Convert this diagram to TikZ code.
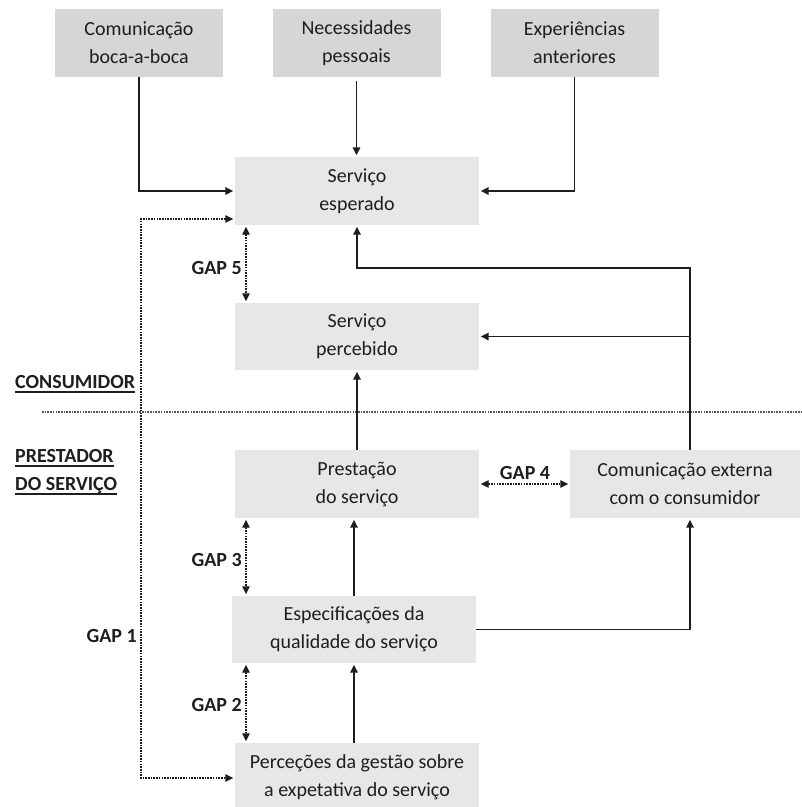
\documentclass[tikz,border=0pt]{standalone}
\usepackage{fontspec}
\setmainfont{Carlito}
\usetikzlibrary{arrows.meta}
\definecolor{topbox}{HTML}{D6D6D6}
\definecolor{lowbox}{HTML}{E7E7E7}
\definecolor{ink}{HTML}{1E1E1E}
\definecolor{dotc}{HTML}{555555}
\begin{document}
\begin{tikzpicture}[x=1pt,y=-1pt,
  box/.style={inner sep=0pt, minimum height=68pt, align=center, text=ink, font=\fontsize{20}{28}\selectfont},
  topb/.style={box, fill=topbox, minimum width=168pt},
  lowb/.style={box, fill=lowbox, minimum width=244pt},
  flow/.style={draw=ink, line width=1.6pt, -{Triangle[length=8pt,width=7.5pt]}, shorten >=1.5pt},
  gap/.style={draw=ink, line width=1.2pt, dash pattern=on 1.6pt off 1.1pt, {Triangle[length=8pt,width=7.5pt]}-{Triangle[length=8pt,width=7.5pt]}, shorten >=1.5pt, shorten <=1.5pt},
  divider/.style={draw=dotc, line width=1.2pt, dash pattern=on 1.6pt off 1.1pt},
  gaplbl/.style={text=ink, font=\fontsize{20}{24}\selectfont\bfseries, inner sep=0pt},
  side/.style={text=ink, font=\fontsize{20}{24}\selectfont\bfseries, inner sep=0pt, anchor=base west},
  ulst/.style={draw=ink, line width=1.6pt}
]
\useasboundingbox (0,0) rectangle (802,807);

% boxes
\node[topb] (c1) at (139,43) {Comunicação\\boca-a-boca};
\node[topb] (c2) at (356.5,43) {Necessidades\\pessoais};
\node[topb] (c3) at (574.5,43) {Experiências\\anteriores};
\node[lowb] (esp) at (357,191) {Serviço\\esperado};
\node[lowb, minimum height=67pt] (perc) at (357,336.5) {Serviço\\percebido};
\node[lowb] (prest) at (357,484) {Prestação\\do serviço};
\node[lowb, minimum width=230pt] (com) at (685,484) {Comunicação externa\\com o consumidor};
\node[lowb, minimum height=67pt] (spec) at (354,629.5) {Especificações da\\qualidade do serviço};
\node[lowb] (gest) at (357,777) {Perceções da gestão sobre\\a expetativa do serviço};

% helper coordinates
\coordinate (gx) at (246,0);
\coordinate (g1a) at (141,219);
\coordinate (g1b) at (141,778);
\coordinate (rt) at (690,268);

% divider
\coordinate (dvl) at (42,412);
\coordinate (dvr) at (802,412);
\draw[divider] (dvl) -- (dvr);

% solid arrows
\draw[flow] (c1.south) |- (esp.west);
\draw[flow, shorten <=4pt] (c2.south) -- (c2.south |- esp.north);
\draw[flow] (c3.south) |- (esp.east);
\draw[flow] (com.north -| rt) -- (rt) -| (esp.south);
\draw[flow] (rt |- perc.east) -- (perc.east);
\draw[flow] (prest.north) -- (perc.south);
\draw[flow] (spec.north) -- (spec.north |- prest.south);
\draw[flow] (spec.east) -| (com.south -| rt);
\draw[flow] (gest.north -| spec.south) -- (spec.south);

% gap arrows
\draw[gap] (esp.west |- g1a) -- (g1a) -- (g1b) -- (gest.west |- g1b);
\draw[gap] (esp.south -| gx) -- (perc.north -| gx);
\draw[gap] (prest.east) -- (com.west);
\draw[gap] (prest.south -| gx) -- (spec.north -| gx);
\draw[gap] (spec.south -| gx) -- (gest.north -| gx);

% gap labels
\node[gaplbl, anchor=east] (l5) at (242,268) {GAP 5};
\node[gaplbl] (l4) at (525,473) {GAP 4};
\node[gaplbl, anchor=east] (l3) at (242,560) {GAP 3};
\node[gaplbl, anchor=east] (l2) at (242,705) {GAP 2};
\node[gaplbl, anchor=east] (l1) at (137,636) {GAP 1};

% side labels
\node[side] (cons) at (15,388) {CONSUMIDOR};
\node[side] (pre1) at (15,462) {PRESTADOR};
\node[side] (pre2) at (15,490) {DO SERVIÇO};
\draw[ulst] ([yshift=-4pt]cons.base west) -- ([yshift=-4pt]cons.base east);
\draw[ulst] ([yshift=-4pt]pre1.base west) -- ([yshift=-4pt]pre1.base east);
\draw[ulst] ([yshift=-4pt]pre2.base west) -- ([yshift=-4pt]pre2.base east);
\end{tikzpicture}
\end{document}
